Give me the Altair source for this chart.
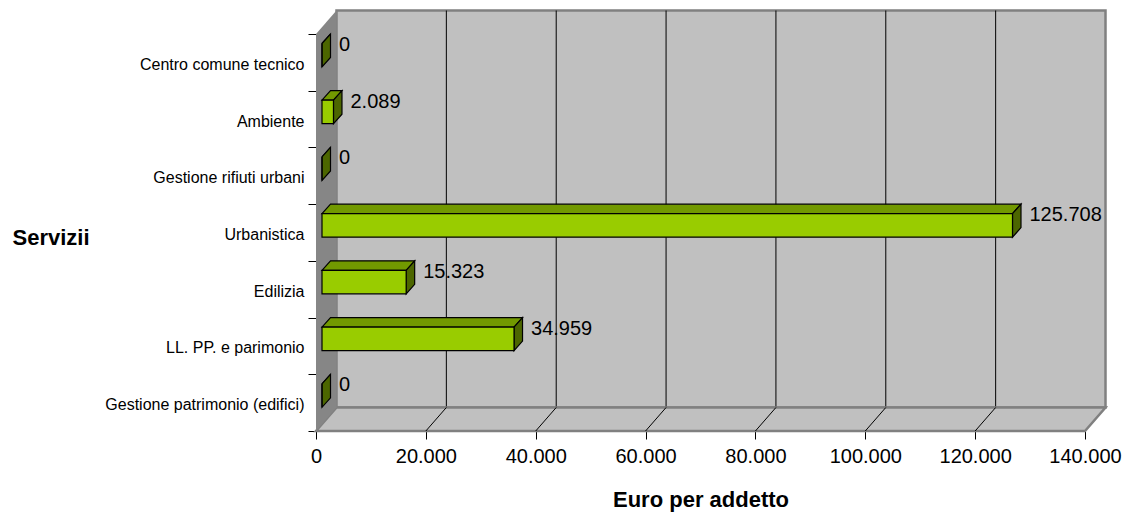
import json
import altair as alt
import pandas as pd

# ---------------- data ----------------
categories = [
    "Centro comune tecnico",
    "Ambiente",
    "Gestione rifiuti urbani",
    "Urbanistica",
    "Edilizia",
    "LL. PP. e parimonio",
    "Gestione patrimonio (edifici)",
]
values = [0, 2089, 0, 125708, 15323, 34959, 0]
x_ticks = [0, 20000, 40000, 60000, 80000, 100000, 120000, 140000]
x_title = "Euro per addetto"
y_title = "Servizii"

# ---------------- geometry / style constants ----------------
W, H = 769, 397
XMAX = x_ticks[-1]
N = len(categories)
PX_X = XMAX / W          # data units per pixel (x)
PX_Y = N / H             # data units per pixel (y)
WALL_DX, WALL_DY = 20.5, 23.5
BAR_X0 = 6
BAR_DX, BAR_DY = 8.5, 9.5
FRONT_TOP, FRONT_BOT = 9.5, 33
LABEL_GAP, LABEL_DY = 17, 11
FONT = "Liberation Sans"

WDX, WDY = WALL_DX * PX_X, WALL_DY * PX_Y
DXB, DYB = BAR_DX * PX_X, BAR_DY * PX_Y

# ---------------- derived tables ----------------
bars = pd.DataFrame({"name": categories, "value": values})
bars["top"] = [N - k for k in range(N)]
bars["x0"] = BAR_X0 * PX_X
bars["x1"] = bars["x0"] + bars["value"]
bars["yt"] = bars["top"] - FRONT_TOP * PX_Y
bars["yb"] = bars["top"] - FRONT_BOT * PX_Y
bars["lx"] = bars["x1"] + LABEL_GAP * PX_X
bars["ly"] = bars["top"] - LABEL_DY * PX_Y
bars["label"] = [f"{v:,}".replace(",", ".") for v in values]

top_rows, side_rows = [], []
for r in bars.to_dict("records"):
    top_rows.append({"name": r["name"], "y": r["yt"], "x": r["x0"], "x2": r["x1"]})
    top_rows.append({"name": r["name"], "y": r["yt"] + DYB, "x": r["x0"] + DXB, "x2": r["x1"] + DXB})
    side_rows.append({"name": r["name"], "x": r["x1"], "y": r["yt"], "y2": r["yb"]})
    side_rows.append({"name": r["name"], "x": r["x1"] + DXB, "y": r["yt"] + DYB, "y2": r["yb"] + DYB})
top_df = pd.DataFrame(top_rows)
side_df = pd.DataFrame(side_rows)

wall_df = pd.DataFrame([{"x": WDX, "x2": XMAX + WDX, "y": WDY, "y2": N + WDY}])
side_wall_df = pd.DataFrame([
    {"x": 0, "y": 0, "y2": N},
    {"x": WDX, "y": WDY, "y2": N + WDY},
])
floor_df = pd.DataFrame([
    {"y": 0, "x": 0, "x2": XMAX},
    {"y": WDY, "x": WDX, "x2": XMAX + WDX},
])
grid_df = pd.DataFrame({"x": [t + WDX for t in x_ticks[1:-1]], "y": WDY, "y2": N + WDY})
fgrid_df = pd.DataFrame({"x": x_ticks[1:-1], "x2": [t + WDX for t in x_ticks[1:-1]], "y": 0, "y2": WDY})

# ---------------- scales & axes ----------------
xscale = alt.Scale(domain=[0, XMAX], nice=False, zero=False)
yscale = alt.Scale(domain=[0, N], nice=False, zero=False)

xaxis = alt.Axis(
    title=x_title, values=x_ticks, grid=False,
    labelExpr="replace(format(datum.value, ','), ',', '.')",
    labelFont=FONT, labelFontSize=20, labelColor="black", labelFlush=False,
    labelPadding=7, tickSize=8, tickColor="black", domainColor="black",
    titleFont=FONT, titleFontSize=22, titleFontWeight="bold", titleColor="black",
    titlePadding=23,
)
names_bottom_up = json.dumps(list(reversed(categories)))
yvals = [i / 2 for i in range(2 * N + 1)]
yaxis = alt.Axis(
    title=y_title, values=yvals, grid=False,
    labelExpr=f"datum.value % 1 ? {names_bottom_up}[floor(datum.value)] : ''",
    labelFont=FONT, labelFontSize=16, labelColor="black", labelOverlap=False,
    labelLimit=0, labelOffset=2,
    labelPadding=4, tickSize=8, tickColor="black", domainColor="black",
    tickOpacity={"condition": {"test": "datum.value % 1 == 0", "value": 1}, "value": 0},
    titleFont=FONT, titleFontSize=22, titleFontWeight="bold", titleColor="black",
    titleAngle=0, titleAlign="left", titleBaseline="middle", titleX=-304, titleY=203,
)


def X(f):
    return alt.X(f"{f}:Q", scale=xscale, axis=xaxis, stack=None)


def Y(f):
    return alt.Y(f"{f}:Q", scale=yscale, axis=yaxis, stack=None)


# ---------------- layers ----------------
back_wall = alt.Chart(wall_df).mark_rect(fill="#C0C0C0", stroke="#808080", strokeWidth=2.5).encode(
    x=X("x"), x2="x2", y=Y("y"), y2="y2")
wall_grid = alt.Chart(grid_df).mark_rule(color="black", strokeWidth=1).encode(
    x=X("x"), y=Y("y"), y2="y2")
floor = alt.Chart(floor_df).mark_area(orient="horizontal", fill="#C0C0C0", stroke="#808080",
                                      strokeWidth=2.5, opacity=1).encode(
    y=Y("y"), x=X("x"), x2="x2")
floor_grid = alt.Chart(fgrid_df).mark_rule(color="black", strokeWidth=1).encode(
    x=X("x"), x2="x2", y=Y("y"), y2="y2")
side_wall = alt.Chart(side_wall_df).mark_area(orient="vertical", fill="#868686", opacity=1).encode(
    x=X("x"), y=Y("y"), y2="y2")

top_face = alt.Chart(top_df).mark_area(orient="horizontal", fill="#729900", stroke="black",
                                       strokeWidth=1.2, opacity=1).encode(
    y=Y("y"), x=X("x"), x2="x2", detail="name:N")
side_face = alt.Chart(side_df).mark_area(orient="vertical", fill="#4C6600", stroke="black",
                                         strokeWidth=1.2, opacity=1).encode(
    x=X("x"), y=Y("y"), y2="y2", detail="name:N")
front_face = alt.Chart(bars).mark_rect(fill="#99CC00", stroke="black", strokeWidth=1.2).encode(
    x=X("x0"), x2="x1", y=Y("yt"), y2="yb")
labels = alt.Chart(bars).mark_text(font=FONT, fontSize=20, color="black", align="left",
                                   baseline="middle").encode(
    x=X("lx"), y=Y("ly"), text="label:N")

chart = alt.layer(
    back_wall, wall_grid, floor, floor_grid, side_wall,
    top_face, side_face, front_face, labels,
).properties(
    width=W, height=H,
    autosize=alt.AutoSizeParams(type="none"),
    padding={"left": 308, "top": 26, "right": 45, "bottom": 83},
    background="white",
).configure_view(strokeWidth=0)

chart.save("out.html", embed_options={"renderer": "svg", "actions": False})
